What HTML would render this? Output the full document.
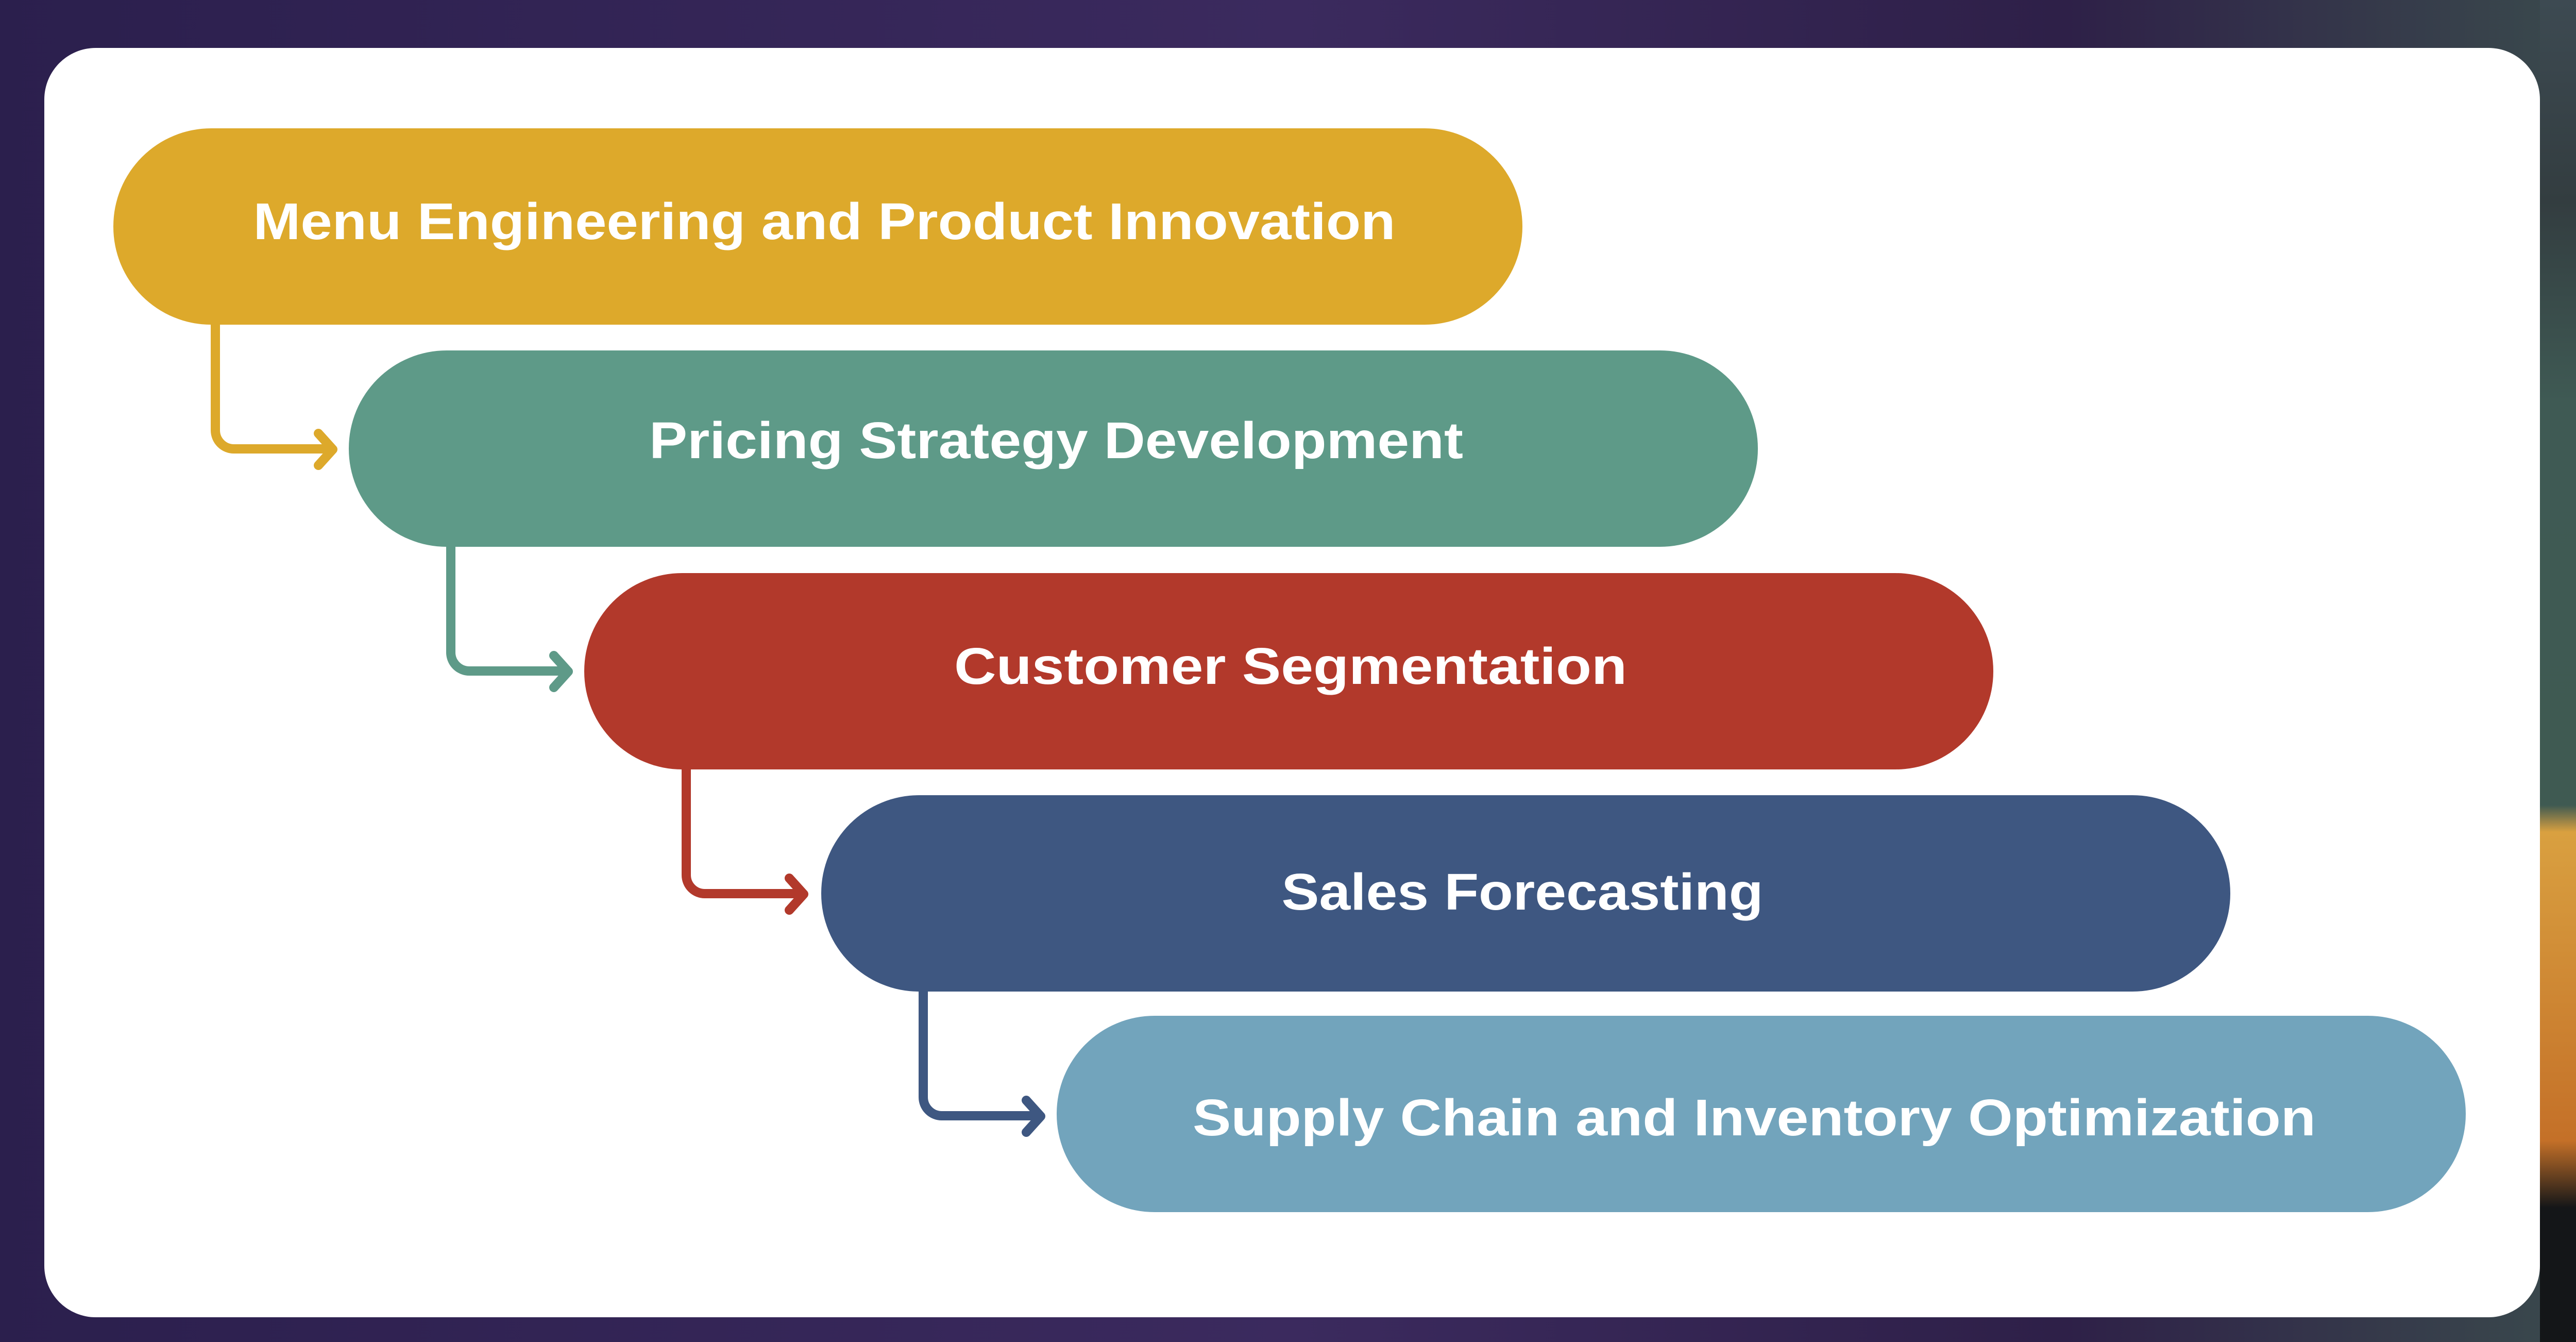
<!DOCTYPE html>
<html><head><meta charset="utf-8"><style>
html,body{margin:0;padding:0;}
body{width:5009px;height:2604px;overflow:hidden;position:relative;background:#2e2050;}
</style></head><body>
<svg width="5009" height="2604" viewBox="0 0 5009 2604" xmlns="http://www.w3.org/2000/svg" style="position:absolute;left:0;top:0">
<defs>
<linearGradient id="bg" x1="0" y1="0" x2="1" y2="0">
<stop offset="0" stop-color="#2b1f4d"/><stop offset="0.5" stop-color="#3b2a5e"/><stop offset="0.8" stop-color="#2e2048"/><stop offset="1" stop-color="#3a4a4c"/>
</linearGradient>
<linearGradient id="rs" x1="0" y1="0" x2="0" y2="1">
<stop offset="0" stop-color="#3d4a52"/><stop offset="0.15" stop-color="#333d40"/><stop offset="0.3" stop-color="#3f5a54"/><stop offset="0.6" stop-color="#3f5a52"/><stop offset="0.62" stop-color="#d9a040"/><stop offset="0.85" stop-color="#c47028"/><stop offset="0.9" stop-color="#141618"/><stop offset="1" stop-color="#141618"/>
</linearGradient>
</defs>
<rect width="5009" height="2604" fill="url(#bg)"/>
<rect x="4930" y="0" width="79" height="2604" fill="url(#rs)"/>
<rect x="86" y="93" width="4844" height="2463" rx="100" fill="#ffffff"/>

<rect x="220" y="249" width="2735" height="381" rx="190" fill="#dda92b"/>
<rect x="677" y="680" width="2735" height="381" rx="190" fill="#5e9a88"/>
<rect x="1134" y="1112" width="2735" height="381" rx="190" fill="#b2392b"/>
<rect x="1594" y="1543" width="2735" height="381" rx="190" fill="#3e5781"/>
<rect x="2051" y="1971" width="2735" height="381" rx="190" fill="#72a4bc"/>

<g fill="none" stroke-width="18" stroke-linecap="round" stroke-linejoin="round">
<path d="M418 630 V835 a36 36 0 0 0 36 36 H645 M618 841 L646 872 L618 903" stroke="#dda92b"/>
<path d="M875 1061 V1266 a36 36 0 0 0 36 36 H1102 M1075 1272 L1103 1303 L1075 1334" stroke="#5e9a88"/>
<path d="M1332 1493 V1698 a36 36 0 0 0 36 36 H1559 M1532 1704 L1560 1735 L1532 1766" stroke="#b2392b"/>
<path d="M1792 1924 V2129 a36 36 0 0 0 36 36 H2019 M1992 2135 L2020 2166 L1992 2197" stroke="#3e5781"/>
</g>

<g fill="#ffffff" font-family="Liberation Sans, sans-serif" font-weight="bold" font-size="100" text-anchor="middle">
<text x="1600" y="464" textLength="2217" lengthAdjust="spacingAndGlyphs">Menu Engineering and Product Innovation</text>
<text x="2050" y="889" textLength="1580" lengthAdjust="spacingAndGlyphs">Pricing Strategy Development</text>
<text x="2505" y="1327" textLength="1306" lengthAdjust="spacingAndGlyphs">Customer Segmentation</text>
<text x="2955" y="1765" textLength="935" lengthAdjust="spacingAndGlyphs">Sales Forecasting</text>
<text x="3405" y="2203" textLength="2180" lengthAdjust="spacingAndGlyphs">Supply Chain and Inventory Optimization</text>
</g>
</svg>
</body></html>
